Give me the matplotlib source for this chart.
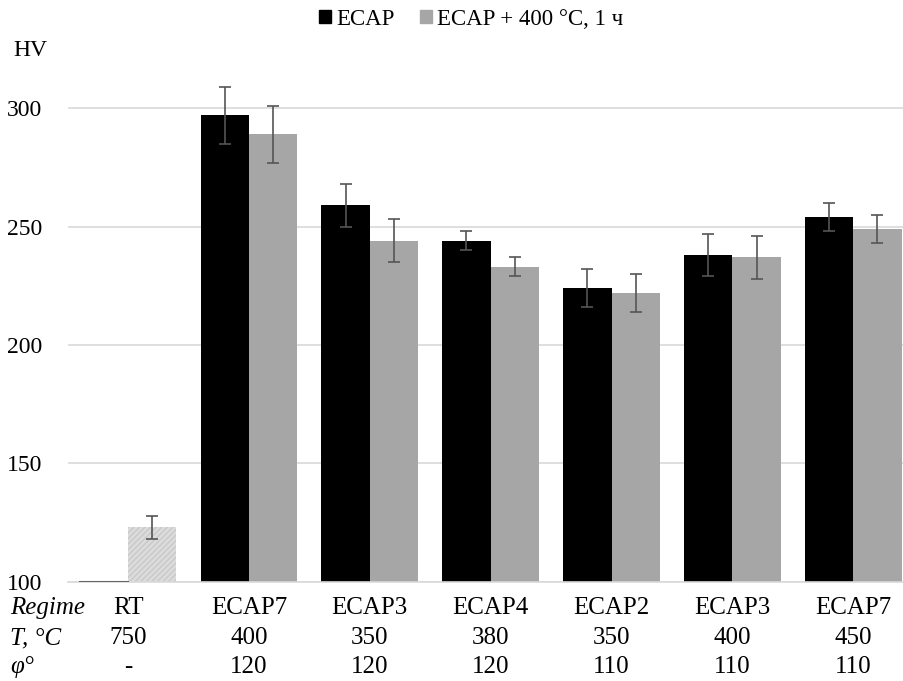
import matplotlib
matplotlib.use("Agg")
import matplotlib.pyplot as plt
import numpy as np
from matplotlib.patches import Patch

regimes = ["RT", "ECAP7", "ECAP3", "ECAP4", "ECAP2", "ECAP3", "ECAP7"]
temps = ["750", "400", "350", "380", "350", "400", "450"]
angles = ["-", "120", "120", "120", "110", "110", "110"]
hv_ecap = [100, 297, 259, 244, 224, 238, 254]
err_ecap = [0, 12, 9, 4, 8, 9, 6]
hv_ann = [123, 289, 244, 233, 222, 237, 249]
err_ann = [5, 12, 9, 4, 8, 9, 6]

plt.rcParams['font.family'] = ['Liberation Serif', 'DejaVu Serif']

fig = plt.figure(figsize=(9.04, 6.81), dpi=100)
ax = fig.add_axes([0.0748, 0.1454, 0.9252, 0.7656])

x = np.arange(len(regimes))
w = 0.4
base = 100
eb = dict(ecolor='#555555', elinewidth=1.2, capsize=4, capthick=1.2)

# black bars
h1 = np.array(hv_ecap) - base
ax.bar(x[1:] - w/2, h1[1:], w, bottom=base, color='black', zorder=2)
ax.errorbar(x[1:] - w/2, hv_ecap[1:], yerr=err_ecap[1:], fmt='none', zorder=3, **eb)
# RT ecap (zero height) shown as thin line
ax.plot([x[0] - w, x[0]], [base, base], color='#666666', lw=1.5, zorder=3)

# gray bars
h2 = np.array(hv_ann) - base
ax.bar(x[1:] + w/2, h2[1:], w, bottom=base, color='#a6a6a6', zorder=2)
ax.bar(x[0] + w/2, h2[0], w, bottom=base, color='#dcdcdc', hatch='//////',
       edgecolor='#c8c8c8', linewidth=0, zorder=2)
ax.errorbar(x + w/2, hv_ann, yerr=err_ann, fmt='none', zorder=3, **eb)

ax.set_xlim(-0.5, 6.42)
ax.set_ylim(100, 320)
ax.set_yticks([100, 150, 200, 250, 300])
ax.tick_params(axis='y', length=0, labelsize=17, pad=18)
ax.set_xticks([])
ax.yaxis.grid(True, color='#d9d9d9', lw=1.2, zorder=0)
ax.set_axisbelow(True)
for s in ['top', 'right', 'left']:
    ax.spines[s].set_visible(False)
ax.spines['bottom'].set_color('#d9d9d9')
ax.spines['bottom'].set_linewidth(1.2)

fig.text(0.015, 0.926, "HV", fontsize=17, ha='left', va='center')

# table below
rows_y = [0.107, 0.063, 0.021]
labels = ["Regime", "T, \u00b0C", "\u03c6\u00b0"]
for ly, lab in zip(rows_y, labels):
    fig.text(0.011, ly, lab, fontsize=18, style='italic', ha='left', va='center')
for i in range(len(regimes)):
    xf = ax.transData.transform((x[i], 0))[0] / fig.bbox.width
    for ly, vals in zip(rows_y, [regimes, temps, angles]):
        fig.text(xf, ly, vals[i], fontsize=18, ha='center', va='center')

# legend
handles = [Patch(color='black', label='ECAP'),
           Patch(color='#a6a6a6', label='ECAP + 400 \u00b0C, 1 \u0447')]
fig.legend(handles=handles, loc='center', bbox_to_anchor=(0.521, 0.972), ncol=2,
           frameon=False, fontsize=16.5, handlelength=0.55, handleheight=0.55,
           handletextpad=0.2, columnspacing=1.1)

fig.savefig("out.png", dpi=100)
